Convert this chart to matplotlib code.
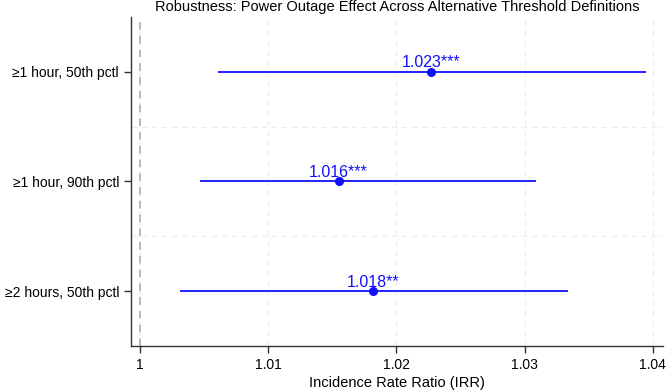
import matplotlib.pyplot as plt

plt.rcParams['font.family'] = ['Liberation Sans', 'DejaVu Sans']

# data
labels = ['≥1 hour, 50th pctl', '≥1 hour, 90th pctl', '≥2 hours, 50th pctl']
irr = [1.0227, 1.0155, 1.0182]
ci_lo = [1.0061, 1.0047, 1.0031]
ci_hi = [1.0395, 1.0309, 1.0334]
tags = ['1.023***', '1.016***', '1.018**']
xticks = [1, 1.01, 1.02, 1.03, 1.04]
xtick_labels = ['1', '1.01', '1.02', '1.03', '1.04']

blue = '#1010ff'

fig = plt.figure(figsize=(6.68, 3.92), dpi=100)
ax = fig.add_axes([0.196, 0.117, 0.7965, 0.840])

ypos = list(range(1, len(labels) + 1))

# faint dashed grid
for x in xticks:
    ax.axvline(x, color='#ececec', lw=0.8, ls=(0, (5, 4)), zorder=0)
for y in [1.5, 2.5]:
    ax.axhline(y, color='#ececec', lw=0.8, ls=(0, (5, 4)), zorder=0)

# reference line at 1
ax.axvline(1, color='#a8a8a8', lw=1.1, ls=(0, (5, 4)), zorder=1)

ax.hlines(ypos, ci_lo, ci_hi, color=blue, lw=1.3, zorder=2)
ax.plot(irr, ypos, 'o', color=blue, ms=5.5, zorder=3)
for x, y, t in zip(irr, ypos, tags):
    ax.text(x, y - 0.04, t, color=blue, fontsize=11.5, ha='center', va='baseline')

ax.set_xlim(0.9993, 1.0408)
ax.set_ylim(3.5, 0.5)
ax.set_yticks(ypos)
ax.set_yticklabels(labels, fontsize=10)
ax.set_xticks(xticks)
ax.set_xticklabels(xtick_labels, fontsize=10)
ax.set_xlabel('Incidence Rate Ratio (IRR)', fontsize=10.5, labelpad=3)
ax.set_title('Robustness: Power Outage Effect Across Alternative Threshold Definitions',
             fontsize=10.5, pad=4)

for s in ['top', 'right']:
    ax.spines[s].set_visible(False)
for s in ['left', 'bottom']:
    ax.spines[s].set_color('#333333')
    ax.spines[s].set_linewidth(1.0)
ax.tick_params(axis='both', colors='#333333', labelcolor='black', length=5, width=1.0)

fig.savefig('out.png', dpi=100)
